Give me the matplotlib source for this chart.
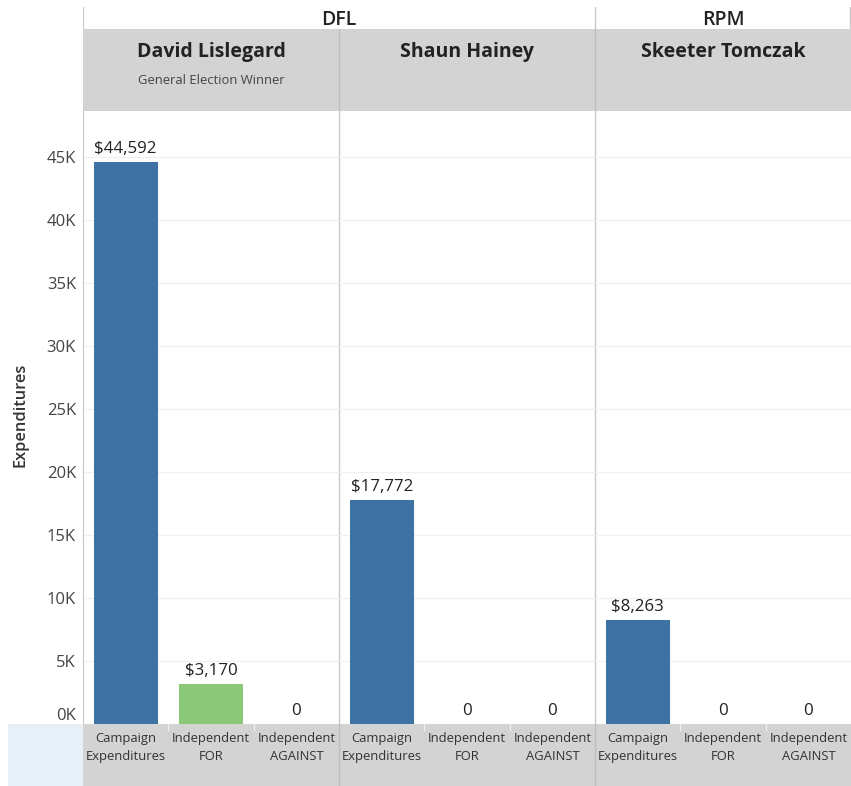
import matplotlib.pyplot as plt
from matplotlib.ticker import FixedLocator

plt.rcParams['font.family'] = ['Open Sans', 'DejaVu Sans']

candidates = ['David Lislegard', 'Shaun Hainey', 'Skeeter Tomczak']
parties = ['DFL', 'DFL', 'RPM']
notes = ['General Election Winner', '', '']
categories = ['Campaign\nExpenditures', 'Independent\nFOR', 'Independent\nAGAINST']
campaign = [44592, 17772, 8263]
indep_for = [3170, 0, 0]
indep_against = [0, 0, 0]
yticks = [0, 5000, 10000, 15000, 20000, 25000, 30000, 35000, 40000, 45000]

BLUE = '#3e72a4'
GREEN = '#8bc878'
RED = '#e15759'
HDR = '#d3d3d3'
LINE = '#c8c8c8'

W, H = 851, 786
fig = plt.figure(figsize=(W / 100, H / 100), dpi=100)

def frac(x0, y0, x1, y1):
    # pixel box (top-left origin) -> figure fraction rect
    return [x0 / W, 1 - y1 / H, (x1 - x0) / W, (y1 - y0) / H]

ax = fig.add_axes(frac(83, 111, 851, 724))
series = [campaign, indep_for, indep_against]
colors = [BLUE, GREEN, RED]
for i, cand in enumerate(candidates):
    for j, vals in enumerate(series):
        x = i * 3 + j
        v = vals[i]
        ax.bar(x, v, width=0.75, color=colors[j], zorder=3)
        lab = '${:,}'.format(v) if v else '0'
        ax.text(x, v + 400, lab, ha='center', va='bottom', fontsize=12.2, color='#222222', zorder=4)

ax.set_xlim(-0.5, 8.5)
ax.set_ylim(0, 48650)
ax.yaxis.set_major_locator(FixedLocator(yticks))
ax.set_yticklabels(['{}K'.format(t // 1000) for t in yticks])
for lbl in ax.get_yticklabels():
    lbl.set_fontsize(12)
    lbl.set_color('#444444')
ax.get_yticklabels()[0].set_va('bottom')
ax.tick_params(axis='y', length=0, pad=5)
ax.set_xticks([])
ax.grid(axis='y', color='#f0f0f0', lw=1, zorder=0)
for s in ['top', 'right', 'bottom']:
    ax.spines[s].set_visible(False)
ax.spines['left'].set_color(LINE)
for xd in [2.5, 5.5]:
    ax.axvline(xd, color=LINE, lw=1, zorder=1)
ax.set_ylabel('Expenditures', fontsize=11.8, fontweight='semibold', color='#333333')
ax.yaxis.set_label_coords(-0.0716, 0.504)

# candidate header band
hax = fig.add_axes(frac(83, 29, 851, 111))
hax.set_facecolor(HDR)
hax.set_xlim(0, 3)
hax.set_ylim(0, 1)
hax.set_xticks([])
hax.set_yticks([])
for s in hax.spines.values():
    s.set_visible(False)
for i, cand in enumerate(candidates):
    hax.text(i + 0.5, 0.72, cand, ha='center', va='center', fontsize=14, fontweight='bold', color='#222222')
    if notes[i]:
        hax.text(i + 0.5, 0.375, notes[i], ha='center', va='center', fontsize=9.4, color='#444444')
    if i > 0:
        hax.axvline(i, color='#bfbfbf', lw=1)

# party header row
pax = fig.add_axes(frac(83, 7, 851, 29))
pax.set_xlim(0, 3)
pax.set_ylim(0, 1)
pax.axis('off')
start = 0
for p in ['DFL', 'RPM']:
    n = parties.count(p)
    pax.text(start + n / 2, 0.42, p, ha='center', va='center', fontsize=14, fontweight='semibold', color='#222222')
    pax.axvline(start, color=LINE, lw=1.5 if start == 0 else 1)
    start += n
pax.axvline(2.995, color=LINE, lw=1)

# category label band
bax = fig.add_axes(frac(83, 724, 851, 786))
bax.set_facecolor(HDR)
bax.set_xlim(-0.5, 8.5)
bax.set_ylim(0, 1)
bax.set_xticks([])
bax.set_yticks([])
for s in bax.spines.values():
    s.set_visible(False)
for i in range(len(candidates)):
    for j, cat in enumerate(categories):
        bax.text(i * 3 + j, 0.62, cat, ha='center', va='center', fontsize=9.4, color='#333333', linespacing=1.45)
for xd in [2.5, 5.5]:
    bax.axvline(xd, color='#bfbfbf', lw=1)
for xt in [0.5, 1.5, 3.5, 4.5, 6.5, 7.5]:
    bax.plot([xt, xt], [0.9, 1.0], color='#eeeeee', lw=1)

corner = fig.add_axes(frac(8, 724, 83, 786))
corner.set_facecolor('#e6f0f6')
corner.set_xticks([])
corner.set_yticks([])
for s in corner.spines.values():
    s.set_visible(False)

fig.savefig('out.png', dpi=100)
